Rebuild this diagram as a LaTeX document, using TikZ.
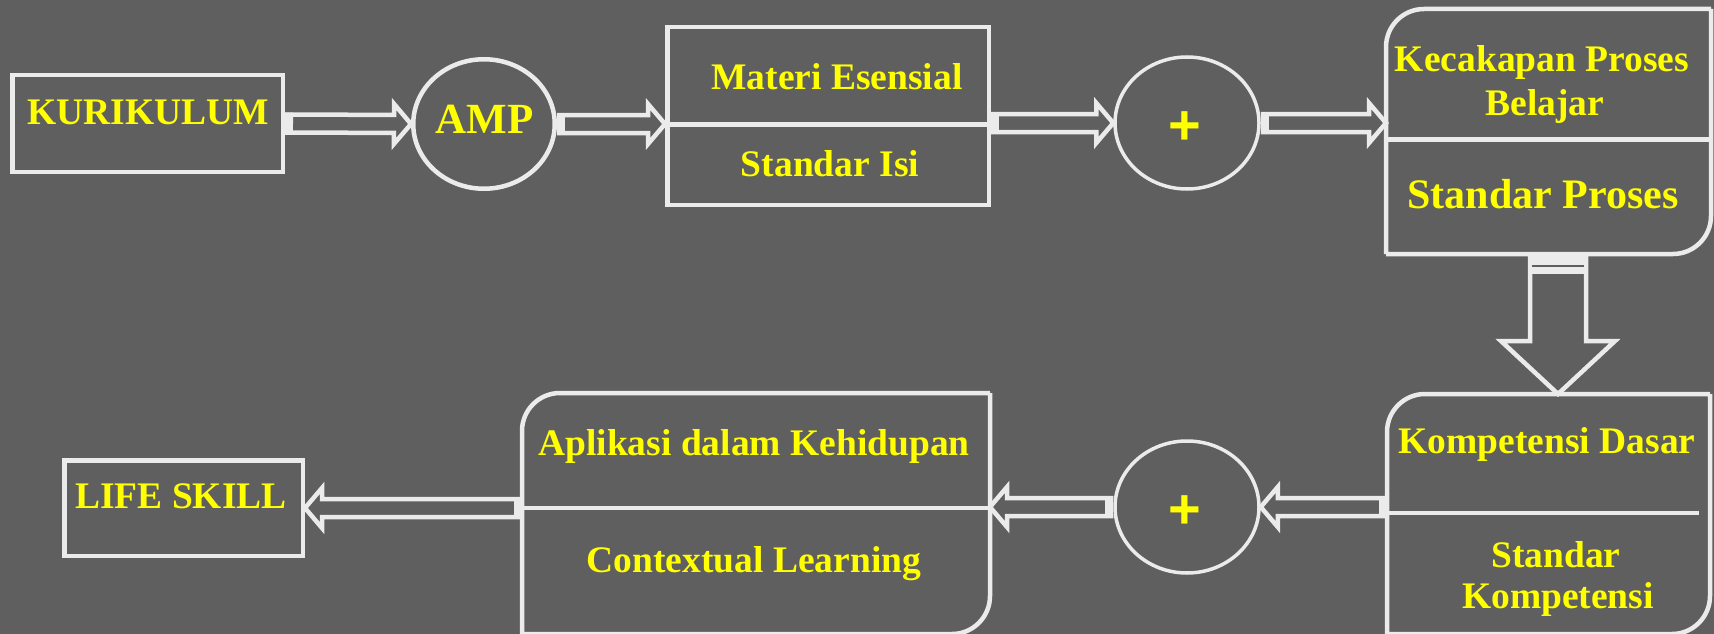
\documentclass[tikz,border=0pt]{standalone}
\usepackage{fontspec}
\setmainfont{Liberation Serif}
\newfontfamily\plusfont{Liberation Sans}
\usetikzlibrary{calc,shapes.geometric}

\definecolor{slide}{HTML}{5F5F5F}
\definecolor{rim}{HTML}{EBEBEB}
\definecolor{gold}{HTML}{FFFF00}

\tikzset{every picture/.style={line width=4.5pt}}
\tikzset{
  box/.style={draw=rim, rectangle, inner sep=0pt},
  hidebox/.style={rectangle, inner sep=0pt},
  oval/.style={draw=rim, ellipse, inner sep=0pt},
  frame/.style={draw=rim, line width=4.5pt},
  txt/.style={text=gold, font=\bfseries\fontsize{37.5}{40}\selectfont, inner sep=0pt, anchor=base},
  bigtxt/.style={txt, font=\bfseries\fontsize{42}{46}\selectfont},
  plustxt/.style={text=gold, font=\plusfont\bfseries\fontsize{56}{60}\selectfont, inner sep=0pt},
  hollow/.style={draw=rim, line width=4.5pt, line join=miter},
}

% block arrow drawn as outline: from, to, half shaft, half head, head length, stub
\newcommand\hollowarrow[6]{%
  \fill[rim] let \p1=(#1), \p2=(#2), \n1={atan2(\y2-\y1,\x2-\x1)} in
    [shift={(\p1)}, rotate=\n1] (0,{-(#3+2)}) rectangle (#6,{#3+2});
  \draw[hollow] let \p1=(#1), \p2=(#2), \n1={atan2(\y2-\y1,\x2-\x1)}, \n2={veclen(\x2-\x1,\y2-\y1)} in
    [shift={(\p1)}, rotate=\n1] (0,-#3) -- (\n2-#5,-#3) -- (\n2-#5,-#4) -- (\n2,0) -- (\n2-#5,#4) -- (\n2-#5,#3) -- (0,#3);
}

\begin{document}
\begin{tikzpicture}[x=1pt,y=-1pt]
	\useasboundingbox (0,0) rectangle (1714,634);
	\fill[slide] (0,0) rectangle (1714,634);
	\clip (0,0) rectangle (1714,634);

	%Shape: Rectangle
	\node[box, minimum width=270.5pt, minimum height=96.5pt] (kur) at (147.5,123.5) {};
	%Shape: Ellipse
	\node[oval, minimum width=141.5pt, minimum height=129.5pt] (amp) at (484,124) {};
	%Shape: Rectangle
	\node[box, minimum width=321.5pt, minimum height=177.5pt] (mat) at (828,116) {};
	\draw[frame] ([yshift=-8.5pt]mat.west) -- ([yshift=-8.5pt]mat.east);
	%Shape: Ellipse
	\node[oval, line width=3.5pt, minimum width=144pt, minimum height=132pt] (plusA) at (1187,123) {};
	%Shape: Rounded box
	\node[hidebox, minimum width=320.5pt, minimum height=240.5pt] (kec) at (1548.5,131.5) {};
	\draw[frame, rounded corners=38pt, line cap=square] (kec.south west) |- (kec.north east) (kec.north east) |- (kec.south west);
	\draw[frame] ([yshift=-8pt]kec.west) -- ([yshift=-8pt]kec.east);

	%Shape: Rounded box
	\node[hidebox, minimum width=318.5pt, minimum height=235.5pt] (komp) at (1548.5,514) {};
	\draw[frame, rounded corners=38pt, line cap=square] (komp.south west) |- (komp.north east) (komp.north east) |- (komp.south west);
	\draw[frame] ([yshift=1pt]komp.west) -- ([xshift=-11pt,yshift=1pt]komp.east);
	%Shape: Ellipse
	\node[oval, line width=3.5pt, minimum width=144pt, minimum height=132pt] (plusB) at (1187,507) {};
	%Shape: Rounded box
	\node[hidebox, minimum width=463.5pt, minimum height=236.5pt] (apl) at (756,513.5) {};
	\draw[frame, rounded corners=38pt, line cap=square] (apl.south west) |- (apl.north east) (apl.north east) |- (apl.south west);
	\draw[frame] ([yshift=5.5pt]apl.west) -- ([yshift=5.5pt]apl.east);
	%Shape: Rectangle
	\node[box, minimum width=238.5pt, minimum height=95.5pt] (life) at (183.5,508) {};

	%Straight Lines
	\hollowarrow{kur.east}{amp.west}{9}{20}{17}{8}
	\hollowarrow{amp.east}{mat.west |- amp.east}{9}{20}{17}{8}
	\hollowarrow{mat.east |- plusA.west}{plusA.west}{9}{20}{17}{8}
	\hollowarrow{plusA.east}{kec.west |- plusA.east}{9}{20}{17}{8}
	\hollowarrow{[xshift=9.5pt]kec.south}{[xshift=9.5pt]komp.north}{28}{57}{53}{20}
	\draw[slide, line width=1.5pt] ([shift={(-26pt,-12pt)}]kec.south -| komp.north) ++(9.5pt,0) -- ++(52pt,0);
	\hollowarrow{komp.west |- plusB.east}{plusB.east}{9}{20}{17}{8}
	\hollowarrow{plusB.west}{apl.east |- plusB.west}{9}{20}{17}{8}
	\hollowarrow{apl.west |- life.east}{life.east}{9}{20}{17}{8}

	% Text Node
	\node[txt] (kurT) at (148.5,124) {KURIKULUM};
	% Text Node
	\node[txt, font=\bfseries\fontsize{43}{46}\selectfont] (ampT) at (484.5,133) {AMP};
	% Text Node
	\node[txt] (matT) at (837,89) {Materi Esensial};
	\node[txt] (isiT) at (830,176) {Standar Isi};
	% Text Node
	\node[plustxt] (plusAT) at (1185,128) {+};
	% Text Node
	\node[txt] (kecT) at (1542,71) {Kecakapan Proses};
	\node[txt] (kecU) at (1545,115) {Belajar};
	\node[bigtxt] (prosT) at (1543,208) {Standar Proses};
	% Text Node
	\node[txt] (kompT) at (1547,453) {Kompetensi Dasar};
	\node[txt] (skT) at (1556,567) {Standar};
	\node[txt] (skU) at (1558,608) {Kompetensi};
	% Text Node
	\node[plustxt] (plusBT) at (1185,512) {+};
	% Text Node
	\node[txt] (aplT) at (754,455) {Aplikasi dalam Kehidupan};
	\node[txt] (ctlT) at (754,572) {Contextual Learning};
	% Text Node
	\node[txt] (lifeT) at (181,508) {LIFE SKILL};

\end{tikzpicture}
\end{document}
